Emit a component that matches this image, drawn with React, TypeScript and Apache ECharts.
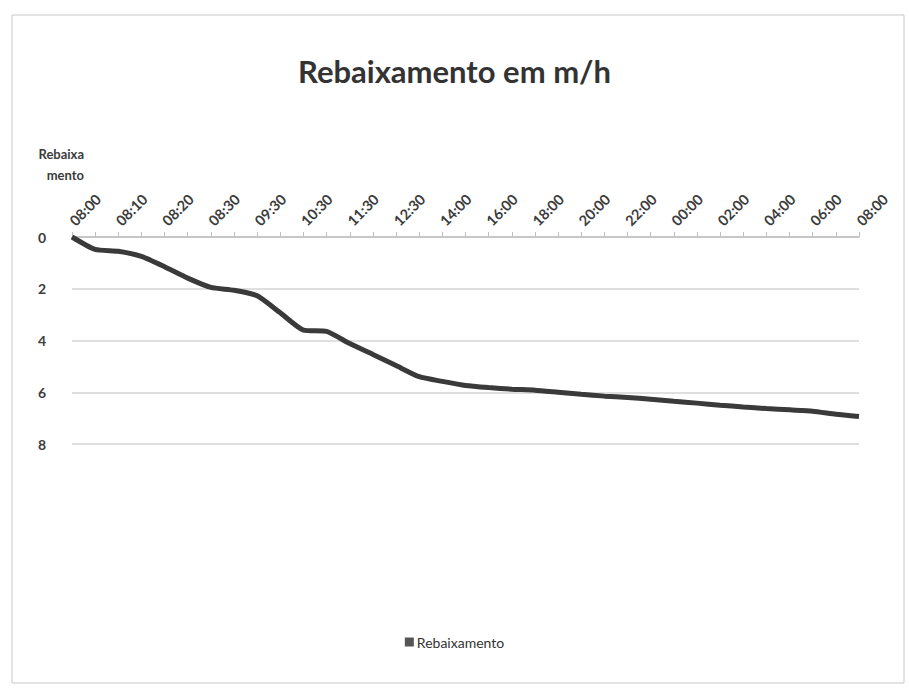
import React, { useEffect, useRef } from "react";
import * as echarts from "echarts";

const titleText = "Rebaixamento em m/h";
const seriesName = "Rebaixamento";
const yAxisName = "Rebaixa\nmento";

const categories = [
  "08:00", "08:05", "08:10", "08:15", "08:20", "08:25", "08:30", "09:00", "09:30", "10:00",
  "10:30", "11:00", "11:30", "12:00", "12:30", "13:15", "14:00", "15:00", "16:00", "17:00",
  "18:00", "19:00", "20:00", "21:00", "22:00", "23:00", "00:00", "01:00", "02:00", "03:00",
  "04:00", "05:00", "06:00", "07:00", "08:00",
];

const rebaixamento = [
  0, 0.48, 0.55, 0.75, 1.15, 1.59, 1.95, 2.06, 2.27, 2.93,
  3.6, 3.65, 4.12, 4.54, 4.97, 5.4, 5.58, 5.74, 5.82, 5.88,
  5.92, 6.0, 6.08, 6.15, 6.2, 6.27, 6.35, 6.42, 6.5, 6.57,
  6.63, 6.68, 6.73, 6.85, 6.94,
];

const yMin = 0;
const yMax = 8;
const yInterval = 2;

export default function App() {
  const ref = useRef<HTMLDivElement>(null);

  useEffect(() => {
    if (!ref.current) return;
    const chart = echarts.init(ref.current, undefined, { renderer: "svg" });
    const font = "Lato, 'Open Sans', sans-serif";
    chart.setOption({
      animation: false,
      backgroundColor: "#ffffff",
      textStyle: { fontFamily: font },
      title: {
        text: titleText,
        left: "center",
        top: 50,
        textStyle: { fontSize: 31, fontWeight: "bold", color: "#333333", fontFamily: font },
      },
      graphic: [
        {
          type: "rect",
          shape: { x: 12, y: 15, width: 892, height: 668 },
          style: { fill: "none", stroke: "#c8c8c8", lineWidth: 1 },
          silent: true,
        },
      ],
      legend: {
        bottom: 40,
        left: "center",
        icon: "rect",
        itemWidth: 9,
        itemHeight: 9,
        itemGap: 4,
        textStyle: { fontSize: 14, color: "#333333", fontFamily: font, padding: [0, 0, 0, -2] },
        data: [seriesName],
      },
      grid: { left: 72, right: 50, top: 237, height: 207, containLabel: false },
      xAxis: {
        type: "category",
        data: categories,
        position: "top",
        boundaryGap: false,
        axisLine: { show: true, lineStyle: { color: "#bfbfbf", width: 1.5 } },
        axisTick: { show: true, interval: 0, length: 5, lineStyle: { color: "#bfbfbf" } },
        axisLabel: {
          interval: 1,
          rotate: 45,
          margin: 14,
          fontSize: 14.5,
          fontWeight: "bold",
          color: "#3c3c3c",
          fontFamily: font,
        },
        splitLine: { show: false },
      },
      yAxis: {
        type: "value",
        inverse: true,
        min: yMin,
        max: yMax,
        interval: yInterval,
        name: yAxisName,
        nameLocation: "start",
        nameGap: 52,
        nameTextStyle: {
          fontSize: 13,
          fontWeight: "bold",
          color: "#3c3c3c",
          align: "right",
          lineHeight: 21,
          padding: [0, -12, 0, 0],
          fontFamily: font,
        },
        axisLine: { show: false },
        axisTick: { show: false },
        axisLabel: {
          margin: 26,
          fontSize: 14,
          fontWeight: "bold",
          color: "#3c3c3c",
          fontFamily: font,
        },
        splitLine: { show: true, lineStyle: { color: "#d4d4d4", width: 1.5 } },
      },
      series: [
        {
          name: seriesName,
          type: "line",
          data: rebaixamento,
          showSymbol: false,
          symbol: "none",
          smooth: 0.2,
          lineStyle: { color: "#3a3a3a", width: 5 },
          itemStyle: { color: "#555555" },
        },
      ],
    });
    return () => chart.dispose();
  }, []);

  return (
    <div
      ref={ref}
      style={{ position: "fixed", left: 0, top: 0, width: 909, height: 694 }}
    />
  );
}
